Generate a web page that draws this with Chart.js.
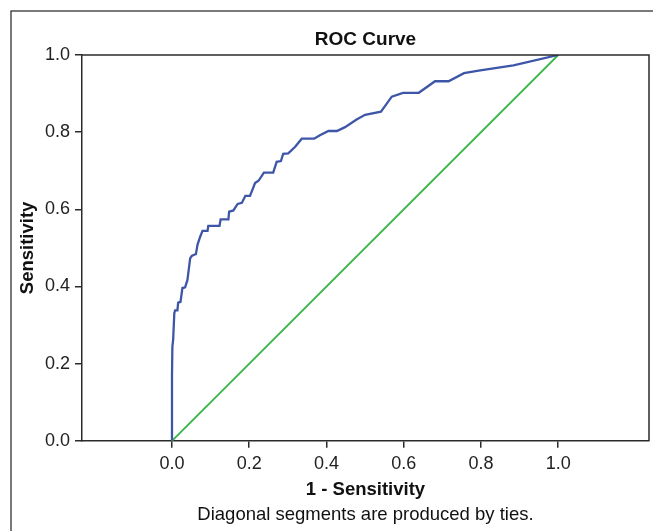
<!DOCTYPE html>
<html>
<head>
<meta charset="utf-8">
<script src="https://cdn.jsdelivr.net/npm/chart.js@4.4.1/dist/chart.umd.min.js"></script>
<style>
  html, body { margin: 0; padding: 0; background: #fff; }
  #wrap { width: 653px; height: 531px; }
</style>
</head>
<body>
<div id="wrap"><canvas id="roc" width="653" height="531"></canvas></div>
<script>
// ROC curve points (1 - specificity, sensitivity)
const rocX = [0.000, 0.000, 0.001, 0.003, 0.006, 0.008, 0.014, 0.016, 0.022, 0.027,
  0.034, 0.040, 0.047, 0.051, 0.062, 0.066, 0.073, 0.079, 0.092, 0.094,
  0.123, 0.126, 0.146, 0.148, 0.159, 0.170, 0.181, 0.190, 0.202, 0.215,
  0.224, 0.238, 0.262, 0.271, 0.282, 0.288, 0.301, 0.319, 0.336, 0.368,
  0.383, 0.405, 0.427, 0.448, 0.478, 0.500, 0.541, 0.569, 0.598, 0.639,
  0.681, 0.716, 0.756, 0.798, 0.884, 1.000];
const rocY = [0.000, 0.170, 0.244, 0.262, 0.331, 0.338, 0.338, 0.358, 0.360, 0.396,
  0.398, 0.417, 0.473, 0.479, 0.484, 0.508, 0.529, 0.544, 0.544, 0.557,
  0.557, 0.574, 0.574, 0.594, 0.597, 0.614, 0.617, 0.635, 0.635, 0.668,
  0.674, 0.695, 0.695, 0.723, 0.725, 0.744, 0.745, 0.762, 0.783, 0.783,
  0.792, 0.803, 0.803, 0.813, 0.833, 0.845, 0.853, 0.892, 0.902, 0.902,
  0.932, 0.932, 0.953, 0.960, 0.973, 1.000];
const refX = [0, 1];
const refY = [0, 1];
const xTicks = [0, 0.2, 0.4, 0.6, 0.8, 1.0];
const yTicks = [0, 0.2, 0.4, 0.6, 0.8, 1.0];

const FONT = "'Liberation Sans', Arial, Helvetica, sans-serif";
const INK = "#2b2b2b";

const toPoints = (xs, ys) => xs.map((x, i) => ({ x, y: ys[i] }));

// outer frame of the figure and the top/right sides of the plot box
const framePlugin = {
  id: "frame",
  beforeDraw(chart) {
    const ctx = chart.ctx;
    ctx.save();
    ctx.strokeStyle = "#333";
    ctx.lineWidth = 1.3;
    ctx.strokeRect(11, 11, 700, 600);
    ctx.restore();
  },
  afterDatasetsDraw(chart) {
    const { ctx, chartArea: a } = chart;
    ctx.save();
    ctx.strokeStyle = INK;
    ctx.lineWidth = 1.5;
    ctx.beginPath();
    ctx.moveTo(a.left, a.top);
    ctx.lineTo(a.right, a.top);
    ctx.lineTo(a.right, a.bottom);
    ctx.stroke();
    ctx.restore();
  }
};

new Chart(document.getElementById("roc"), {
  type: "scatter",
  data: {
    datasets: [
      {
        label: "Reference",
        data: toPoints(refX, refY),
        showLine: true,
        borderColor: "#3db54a",
        borderWidth: 1.9,
        pointRadius: 0,
        order: 2
      },
      {
        label: "ROC",
        data: toPoints(rocX, rocY),
        showLine: true,
        borderColor: "#3e56a7",
        borderWidth: 2.3,
        pointRadius: 0,
        order: 1
      }
    ]
  },
  options: {
    responsive: false,
    animation: false,
    layout: { padding: { left: 0, right: 4, top: 0, bottom: 0 } },
    plugins: {
      legend: { display: false },
      tooltip: { enabled: false },
      title: {
        display: true,
        text: "ROC Curve",
        fullSize: false,
        color: "#111",
        font: { family: FONT, size: 19, weight: "bold" },
        padding: { top: 28.6, bottom: 3.6 }
      },
      subtitle: {
        display: true,
        text: "Diagonal segments are produced by ties.",
        position: "bottom",
        fullSize: false,
        color: "#111",
        font: { family: FONT, size: 18.5 },
        padding: { top: 3, bottom: 5 }
      }
    },
    scales: {
      x: {
        type: "linear",
        min: -0.233,
        max: 1.235,
        afterBuildTicks: scale => { scale.ticks = xTicks.map(v => ({ value: v })); },
        afterFit: scale => { scale.height = 60; },
        border: { display: true, color: INK, width: 1.5 },
        grid: { drawOnChartArea: false, drawTicks: true, tickLength: 7, color: INK, lineWidth: 1.5 },
        ticks: {
          padding: 5,
          color: "#222",
          font: { family: FONT, size: 18 },
          callback: v => v.toFixed(1)
        },
        title: {
          display: true,
          text: "1 - Sensitivity",
          color: "#111",
          font: { family: FONT, size: 18.5, weight: "bold" },
          padding: { top: 0, bottom: 0 }
        }
      },
      y: {
        type: "linear",
        min: 0,
        max: 1,
        afterBuildTicks: scale => { scale.ticks = yTicks.map(v => ({ value: v })); },
        afterFit: scale => { scale.width = 82; },
        border: { display: true, color: INK, width: 1.5 },
        grid: { drawOnChartArea: false, drawTicks: true, tickLength: 7, color: INK, lineWidth: 1.5 },
        ticks: {
          padding: 5,
          color: "#222",
          font: { family: FONT, size: 18 },
          callback: v => v.toFixed(1)
        },
        title: {
          display: true,
          text: "Sensitivity",
          color: "#111",
          font: { family: FONT, size: 18.5, weight: "bold" },
          padding: { top: 17, bottom: 0 }
        }
      }
    }
  },
  plugins: [framePlugin]
});
</script>
</body>
</html>
